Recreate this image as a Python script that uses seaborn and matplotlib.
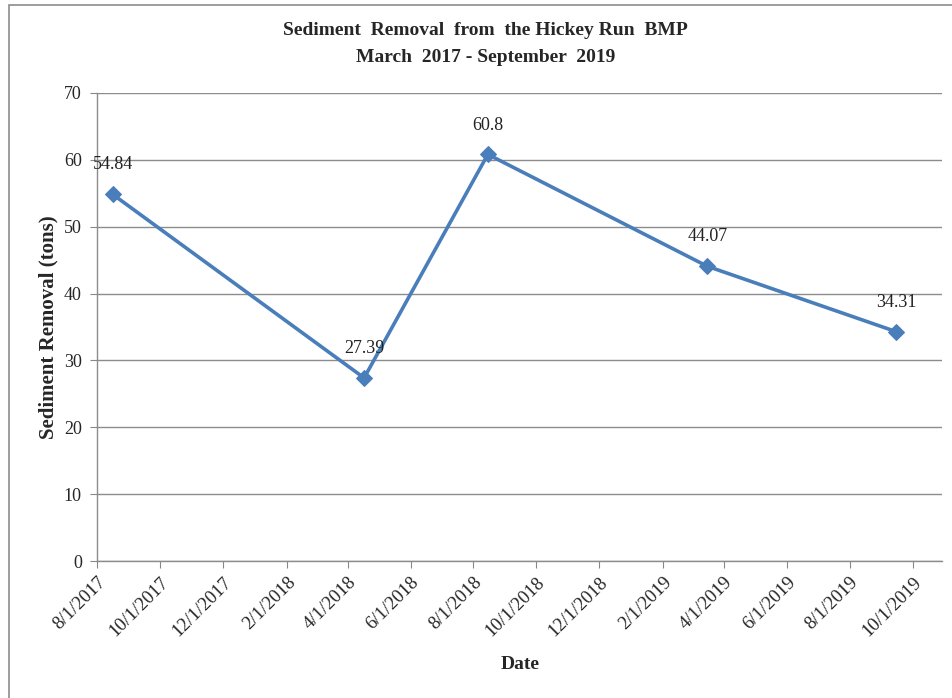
import pandas as pd
import matplotlib.pyplot as plt
import seaborn as sns
from matplotlib.patches import Rectangle

# data
dates = ['2017-08-16', '2018-04-17', '2018-08-15', '2019-03-16', '2019-09-15']
removal = [54.84, 27.39, 60.8, 44.07, 34.31]
labels = ['54.84', '27.39', '60.8', '44.07', '34.31']
tick_dates = pd.date_range('2017-08-01', '2019-10-01', freq='2MS')

df = pd.DataFrame({'Date': pd.to_datetime(dates), 'Removal': removal})

sns.set_style('white')
plt.rcParams['font.family'] = ['Liberation Serif', 'DejaVu Serif']

fig = plt.figure(figsize=(9.52, 6.98), dpi=100)
ax = fig.add_axes([0.102, 0.196, 0.888, 0.671])

sns.lineplot(data=df, x='Date', y='Removal', ax=ax, color='#4a7ebb',
             linewidth=2.6, marker='D', markersize=8, markeredgecolor='#4a7ebb')

for d, v, t in zip(df['Date'], df['Removal'], labels):
    ax.annotate(t, (d, v), xytext=(0, 15), textcoords='offset points',
                ha='center', va='bottom', fontsize=13, color='#222222')

ax.set_ylim(0, 70)
ax.set_yticks(range(0, 71, 10))
ax.set_xlim(pd.Timestamp('2017-08-01'), pd.Timestamp('2019-10-30'))
ax.set_xticks(tick_dates)
ax.set_xticklabels([f'{d.month}/{d.day}/{d.year}' for d in tick_dates],
                   rotation=45, ha='right', rotation_mode='anchor', fontsize=13.5)
ax.tick_params(axis='y', labelsize=13, length=5, color='#888888', left=True, pad=6)
ax.tick_params(axis='x', length=5, color='#888888', bottom=True, pad=4)

ax.grid(axis='y', color='#8c8c8c', linewidth=1)
ax.set_axisbelow(True)
for s in ['top', 'right']:
    ax.spines[s].set_visible(False)
for s in ['left', 'bottom']:
    ax.spines[s].set_color('#8c8c8c')
    ax.spines[s].set_linewidth(1)

ax.set_xlabel('Date', fontsize=14, fontweight='bold', labelpad=12)
ax.set_ylabel('Sediment Removal (tons)', fontsize=15, fontweight='bold', labelpad=4)
fig.suptitle('Sediment  Removal  from  the Hickey Run  BMP\nMarch  2017 - September  2019',
             x=0.51, y=0.968, fontsize=14, fontweight='bold', linespacing=1.75)

fig.patches.append(Rectangle((0.009, -0.01), 1.0, 1.003, transform=fig.transFigure,
                             fill=False, edgecolor='#8c8c8c', linewidth=1.2))

plt.savefig('out.png')
plt.close()
